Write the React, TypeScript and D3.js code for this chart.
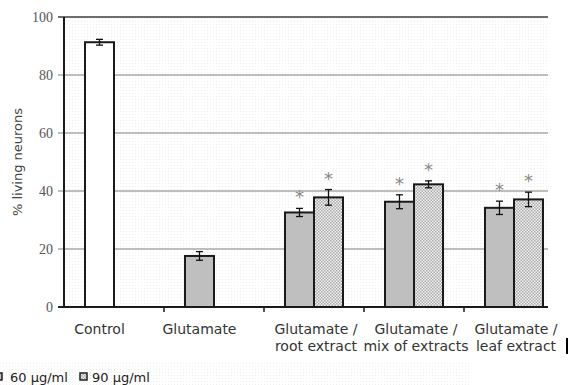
import React, { useEffect, useRef } from 'react';
import * as d3 from 'd3';

// groups on the x axis, each label split into its printed lines
const categories = ['Control', 'Glutamate', 'Glutamate / root extract', 'Glutamate / mix of extracts', 'Glutamate / leaf extract'];
const labelLines = [['Control'], ['Glutamate'], ['Glutamate /', 'root extract'], ['Glutamate /', 'mix of extracts'], ['Glutamate /', 'leaf extract']];

const doses = ['60 µg/ml', '90 µg/ml'];
const dose60 = [91.3, 17.6, 32.6, 36.3, 34.2];
const err60 = [1.0, 1.5, 1.4, 2.4, 2.3];
const dose90: (number | null)[] = [null, null, 37.8, 42.3, 37.1];
const err90: (number | null)[] = [null, null, 2.7, 1.2, 2.5];
const star60 = [false, false, true, true, true];
const star90 = [false, false, true, true, true];

const yTicks = [0, 20, 40, 60, 80, 100];

const W = 570;
const H = 385;

const App = () => {
  const ref = useRef<SVGSVGElement | null>(null);

  useEffect(() => {
    if (!ref.current) return;
    const svg = d3.select(ref.current);
    svg.selectAll('*').remove();

    const left = 64;
    const top = 17;
    const bottom = 307;
    const visibleRight = 548; // figure is cropped on the right

    const defs = svg.append('defs');
    const bg = defs.append('pattern').attr('id', 'bgdots').attr('width', 3).attr('height', 3)
      .attr('patternUnits', 'userSpaceOnUse');
    bg.append('rect').attr('width', 1).attr('height', 1).attr('fill', '#efefef');

    const hatch = defs.append('pattern').attr('id', 'hatch').attr('width', 3).attr('height', 3)
      .attr('patternUnits', 'userSpaceOnUse');
    hatch.append('rect').attr('width', 3).attr('height', 3).attr('fill', '#f4f4f4');
    hatch.append('rect').attr('width', 1.5).attr('height', 1.5).attr('fill', '#a8a8a8');
    hatch.append('rect').attr('x', 1.5).attr('y', 1.5).attr('width', 1.5).attr('height', 1.5).attr('fill', '#a8a8a8');

    const x0 = d3.scaleBand().domain(categories).range([left, left + 500]).padding(0);
    const x1 = d3.scaleBand().domain(doses).range([0, x0.bandwidth()]).paddingInner(0).paddingOuter(0.724);
    const y = d3.scaleLinear().domain([0, 100]).range([bottom, top]);

    // background texture
    svg.append('rect').attr('x', left).attr('y', top).attr('width', visibleRight - left).attr('height', bottom - top)
      .attr('fill', 'url(#bgdots)');
    svg.append('rect').attr('x', 0).attr('y', 362).attr('width', 470).attr('height', 23)
      .attr('fill', 'url(#bgdots)');

    // gridlines
    svg.append('g').selectAll('line')
      .data(yTicks.filter(t => t > 0))
      .enter()
      .append('line')
      .attr('x1', left - 6)
      .attr('x2', visibleRight)
      .attr('y1', d => y(d))
      .attr('y2', d => y(d))
      .attr('stroke', d => (d === 100 ? '#6e6e6e' : '#a9a9a9'))
      .attr('stroke-width', d => (d === 100 ? 2 : 1.5));

    // y tick labels
    svg.append('g').selectAll('text')
      .data(yTicks)
      .enter()
      .append('text')
      .attr('x', 53)
      .attr('y', d => y(d))
      .attr('dy', '0.35em')
      .attr('text-anchor', 'end')
      .style('font-family', '"Liberation Serif", "DejaVu Serif", serif')
      .style('font-size', '14px')
      .style('fill', '#555')
      .text(d => d);

    svg.append('line').attr('x1', left - 6).attr('x2', left).attr('y1', y(0)).attr('y2', y(0))
      .attr('stroke', '#222').attr('stroke-width', 2);

    svg.append('text')
      .attr('transform', `translate(22, ${(top + bottom) / 2}) rotate(-90)`)
      .attr('text-anchor', 'middle')
      .style('font-family', '"DejaVu Sans", sans-serif')
      .style('font-size', '13px')
      .style('fill', '#444')
      .text('% living neurons');

    // bars
    const rows: { cat: string; i: number; dose: string; v: number; e: number; star: boolean }[] = [];
    categories.forEach((cat, i) => {
      rows.push({ cat, i, dose: doses[0], v: dose60[i], e: err60[i], star: star60[i] });
      if (dose90[i] != null) rows.push({ cat, i, dose: doses[1], v: dose90[i] as number, e: err90[i] as number, star: star90[i] });
    });

    const fillFor = (d: { cat: string; dose: string }) =>
      d.cat === 'Control' ? '#ffffff' : d.dose === doses[0] ? '#bfbfbf' : 'url(#hatch)';

    svg.append('g').selectAll('rect')
      .data(rows)
      .enter()
      .append('rect')
      .attr('x', d => (x0(d.cat) as number) + (x1(d.dose) as number))
      .attr('y', d => y(d.v))
      .attr('width', x1.bandwidth())
      .attr('height', d => y(0) - y(d.v))
      .attr('fill', fillFor)
      .attr('stroke', '#1a1a1a')
      .attr('stroke-width', 2);

    // error bars
    const eg = svg.append('g').attr('stroke', '#111').attr('stroke-width', 1.3);
    rows.forEach(d => {
      const cx = (x0(d.cat) as number) + (x1(d.dose) as number) + x1.bandwidth() / 2;
      eg.append('line').attr('x1', cx).attr('x2', cx).attr('y1', y(d.v + d.e)).attr('y2', y(d.v - d.e));
      eg.append('line').attr('x1', cx - 3.5).attr('x2', cx + 3.5).attr('y1', y(d.v + d.e)).attr('y2', y(d.v + d.e));
      eg.append('line').attr('x1', cx - 3.5).attr('x2', cx + 3.5).attr('y1', y(d.v - d.e)).attr('y2', y(d.v - d.e));
    });

    // significance stars
    svg.append('g').selectAll('text')
      .data(rows.filter(d => d.star))
      .enter()
      .append('text')
      .attr('x', d => (x0(d.cat) as number) + (x1(d.dose) as number) + x1.bandwidth() / 2)
      .attr('y', d => y(d.v + d.e) - 5)
      .attr('text-anchor', 'middle')
      .style('font-family', '"DejaVu Sans", sans-serif')
      .style('font-size', '18px')
      .style('fill', '#888')
      .text('*');

    // axes lines
    svg.append('line').attr('x1', left).attr('x2', left).attr('y1', top).attr('y2', bottom + 1)
      .attr('stroke', '#1a1a1a').attr('stroke-width', 2);
    svg.append('line').attr('x1', left - 3).attr('x2', visibleRight).attr('y1', bottom).attr('y2', bottom)
      .attr('stroke', '#1a1a1a').attr('stroke-width', 2);
    svg.append('g').selectAll('line')
      .data(categories.slice(1))
      .enter()
      .append('line')
      .attr('x1', d => x0(d) as number)
      .attr('x2', d => x0(d) as number)
      .attr('y1', bottom)
      .attr('y2', bottom + 5)
      .attr('stroke', '#1a1a1a')
      .attr('stroke-width', 1.5);

    // x labels, centred under the bars drawn in each group
    categories.forEach((cat, i) => {
      const n = dose90[i] == null ? 1 : 2;
      const cx = (x0(cat) as number) + (x1(doses[0]) as number) + (n * x1.bandwidth()) / 2 + (n === 2 ? 2 : 0);
      const t = svg.append('text')
        .attr('text-anchor', 'middle')
        .style('font-family', '"DejaVu Sans", sans-serif')
        .style('font-size', '14px')
        .style('fill', '#333');
      labelLines[i].forEach((line, j) => {
        t.append('tspan').attr('x', cx).attr('y', 334 + j * 17).text(line);
      });
    });

    // legend (cropped at the left edge)
    const lg = svg.append('g');
    lg.append('rect').attr('x', -5).attr('y', 373).attr('width', 7).attr('height', 7)
      .attr('fill', '#bfbfbf').attr('stroke', '#222').attr('stroke-width', 1.5);
    lg.append('text').attr('x', 10).attr('y', 382)
      .style('font-family', '"DejaVu Sans", sans-serif').style('font-size', '13px').style('fill', '#222')
      .text(doses[0]);
    lg.append('rect').attr('x', 80).attr('y', 373).attr('width', 7).attr('height', 7)
      .attr('fill', 'url(#hatch)').attr('stroke', '#222').attr('stroke-width', 1.5);
    lg.append('text').attr('x', 92).attr('y', 382)
      .style('font-family', '"DejaVu Sans", sans-serif').style('font-size', '13px').style('fill', '#222')
      .text(doses[1]);

    // crop edge mark
    svg.append('line').attr('x1', 567).attr('x2', 567).attr('y1', 338).attr('y2', 354)
      .attr('stroke', '#000').attr('stroke-width', 2);
  }, []);

  return (
    <svg
      ref={ref}
      width={W}
      height={H}
      style={{ position: 'absolute', left: 0, top: 0, background: '#fff' }}
    />
  );
};

export default App;
